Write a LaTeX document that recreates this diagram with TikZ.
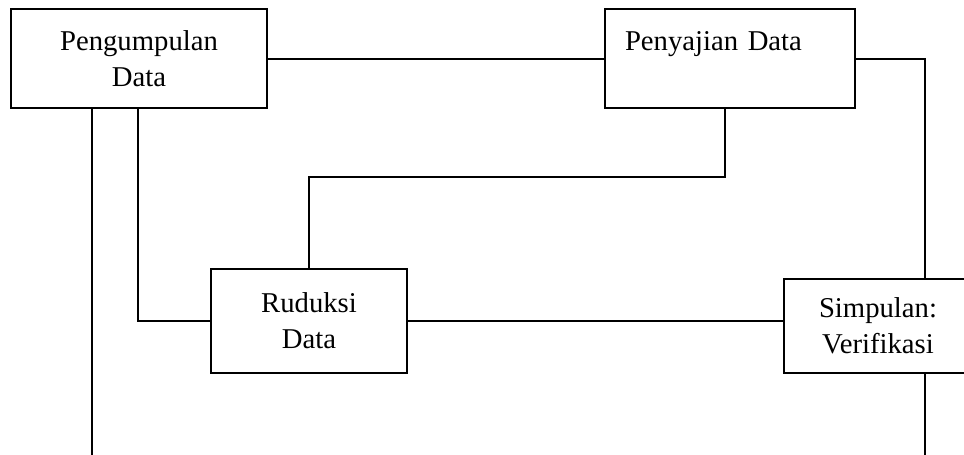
\documentclass[tikz,border=0pt]{standalone}
\usepackage{fontspec}
\setmainfont{Liberation Serif}
\begin{document}
\begin{tikzpicture}[x=0.5pt,y=-0.5pt,
  box/.style={draw,line width=1pt,rectangle,inner sep=0pt,align=center,
    font=\fontsize{14.35}{18}\selectfont},
  conn/.style={line width=1pt}]
\useasboundingbox (0,0) rectangle (964,455);
\node[box,minimum width=128pt,minimum height=49.5pt] (pd) at (139,58.5) {Pengumpulan\\Data};
\node[box,minimum width=125pt,minimum height=49.5pt,text width=105pt,align=left] (pj) at (730,58.5) {Penyajian Data\\~};
\node[box,minimum width=98pt,minimum height=52pt] (rd) at (309,321) {Ruduksi\\Data};
\node[box,minimum width=94pt,minimum height=47pt] (sv) at (878,326) {Simpulan:\\Verifikasi};
\coordinate (rx) at (925,0);
\coordinate (c1) at (725,0);
\coordinate (c2) at (138,0);
\coordinate (c3) at (92,0);
\coordinate (bot) at (0,456);
\draw[conn] (pd.east) -- (pj.west);
\draw[conn] (pj.east) -| (rx |- sv.north);
\draw[conn] (pj.south -| c1) -- ++(0,68) -| (rd.north);
\draw[conn] (pd.south -| c2) |- (rd.west);
\draw[conn] (pd.south -| c3) -- (c3 |- bot);
\draw[conn] (rd.east) -- (rd.east -| sv.west);
\draw[conn] (sv.south -| rx) -- (rx |- bot);
\end{tikzpicture}
\end{document}
